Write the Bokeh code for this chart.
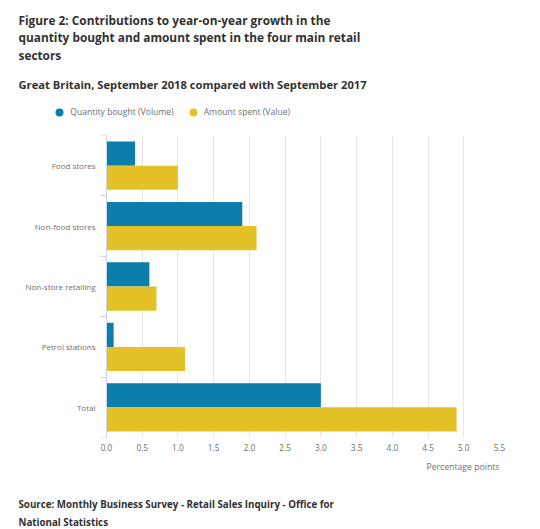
from bokeh.plotting import figure
from bokeh.layouts import column
from bokeh.models import (Range1d, FixedTicker, Legend, LegendItem,
                          ColumnDataSource, NumeralTickFormatter)
from bokeh.core.properties import value
from bokeh.transform import dodge
from bokeh.embed import file_html
from bokeh.resources import INLINE

categories = ["Food stores", "Non-food stores", "Non-store retailing", "Petrol stations", "Total"]
volume = [0.4, 1.9, 0.6, 0.1, 3.0]
value_ = [1.0, 2.1, 0.7, 1.1, 4.9]
x_ticks = [0.0, 0.5, 1.0, 1.5, 2.0, 2.5, 3.0, 3.5, 4.0, 4.5, 5.0, 5.5]
series_names = ["Quantity bought (Volume)", "Amount spent (Value)"]
title_lines = ["Figure 2: Contributions to year-on-year growth in the",
               "quantity bought and amount spent in the four main retail",
               "sectors"]
subtitle = "Great Britain, September 2018 compared with September 2017"
source_lines = ["Source: Monthly Business Survey - Retail Sales Inquiry - Office for",
                "National Statistics"]
x_label = "Percentage points"

BLUE = "#0b7eab"
YELLOW = "#e4c227"
FONT = "Open Sans"
DARK = "#323132"
GREY = "#6f6f6f"
W = 540
BL, BR = 15, 41            # common left/right borders of all three figures
AXIS_X = 106               # pixel where value 0 sits
FRAME_R = W - BR           # pixel where the value axis ends
X_MAX = 5.5
K = (FRAME_R - AXIS_X) / X_MAX


def blank(h):
    f = figure(width=W, height=h, output_backend="svg", toolbar_location=None,
               x_range=Range1d(BL, FRAME_R), y_range=Range1d(h, 0),
               x_axis_location=None, y_axis_location=None,
               min_border_left=BL, min_border_right=BR, min_border_top=0, min_border_bottom=0)
    f.grid.visible = False
    f.outline_line_color = None
    return f


def txt(f, x, y, text, size, bold=True, color=DARK, align="left"):
    f.text(x=[x], y=[y], text=[text], text_font=value(FONT), text_font_size=size,
           text_font_style="bold" if bold else "normal", text_color=color,
           text_align=align, text_baseline="alphabetic")


# ---------- header ----------
HH = 125
head = blank(HH)
for i, t in enumerate(title_lines):
    txt(head, 18, 19.5 + 17.3 * i, t, "11.85px")
txt(head, 18, 84.3, subtitle, "11.2px")

r1 = head.scatter(x=[-1000], y=[-1000], marker="circle", size=8, fill_color=BLUE, line_color=None)
r2 = head.scatter(x=[-1000], y=[-1000], marker="circle", size=8, fill_color=YELLOW, line_color=None)
leg = Legend(items=[LegendItem(label=series_names[0], renderers=[r1]),
                    LegendItem(label=series_names[1], renderers=[r2])],
             orientation="horizontal", location=(49.3 - BL, HH - 121.7),
             border_line_color=None, background_fill_alpha=0,
             padding=0, margin=0, spacing=9, glyph_width=20, glyph_height=20,
             label_standoff=1, label_text_font=FONT, label_text_font_size="8.6px",
             label_text_color=GREY, label_height=20, label_text_baseline="middle")
head.add_layout(leg, "center")

# ---------- main chart ----------
centers = [i + 0.5 for i in range(len(categories))]
src = ColumnDataSource(dict(y=centers, volume=volume, value=value_, cat=categories))

MT, FH_MAIN, MB = 10, 302, 18
p = figure(width=W, height=MT + FH_MAIN + MB, output_backend="svg", toolbar_location=None,
           x_range=Range1d(-(AXIS_X - BL) / K, X_MAX), y_range=Range1d(len(categories), 0),
           min_border_left=BL, min_border_right=BR, min_border_top=MT, min_border_bottom=MB)
p.outline_line_color = None

p.hbar(y=dodge("y", -0.2, range=p.y_range), right="volume", left=0, height=0.4,
       source=src, fill_color=BLUE, line_color=None)
p.hbar(y=dodge("y", 0.2, range=p.y_range), right="value", left=0, height=0.4,
       source=src, fill_color=YELLOW, line_color=None)

# category labels next to the value-zero axis
p.text(x=0, y="y", text="cat", source=src, x_offset=-11, text_align="right",
       text_baseline="middle", text_font=value(FONT), text_font_size="8px",
       text_color=GREY)

xa = p.xaxis[0]
xa.ticker = FixedTicker(ticks=x_ticks, minor_ticks=[])
xa.formatter = NumeralTickFormatter(format="0.0")
xa.axis_line_color = None
xa.major_tick_line_color = None
xa.major_tick_out = 0
xa.minor_tick_line_color = None
xa.major_label_text_font = FONT
xa.major_label_text_font_size = "8.3px"
xa.major_label_text_color = GREY
xa.major_label_standoff = 6

ya = p.yaxis[0]
ya.fixed_location = 0
ya.ticker = FixedTicker(ticks=centers, minor_ticks=list(range(len(categories) + 1)))
ya.major_label_overrides = {c: "" for c in centers}
ya.major_label_standoff = 0
ya.major_tick_line_color = None
ya.major_tick_out = 0
ya.minor_tick_line_color = "#ccd6eb"
ya.minor_tick_out = 6
ya.minor_tick_in = 0
ya.axis_line_color = "#ccd6eb"

p.ygrid.grid_line_color = None
p.xgrid.grid_line_color = "#e6e6e6"

# ---------- footer ----------
TOP_FOOT = HH + MT + FH_MAIN + MB
FH = 529 - TOP_FOOT
foot = blank(FH)
txt(foot, FRAME_R, 466 - TOP_FOOT, x_label, "8.7px", bold=False, color=GREY, align="right")
for i, t in enumerate(source_lines):
    txt(foot, 18, 504 - TOP_FOOT + 17.7 * i, t, "9.75px")

layout = column(head, p, foot, spacing=0)
open("out.html", "w").write(file_html(layout, INLINE))
